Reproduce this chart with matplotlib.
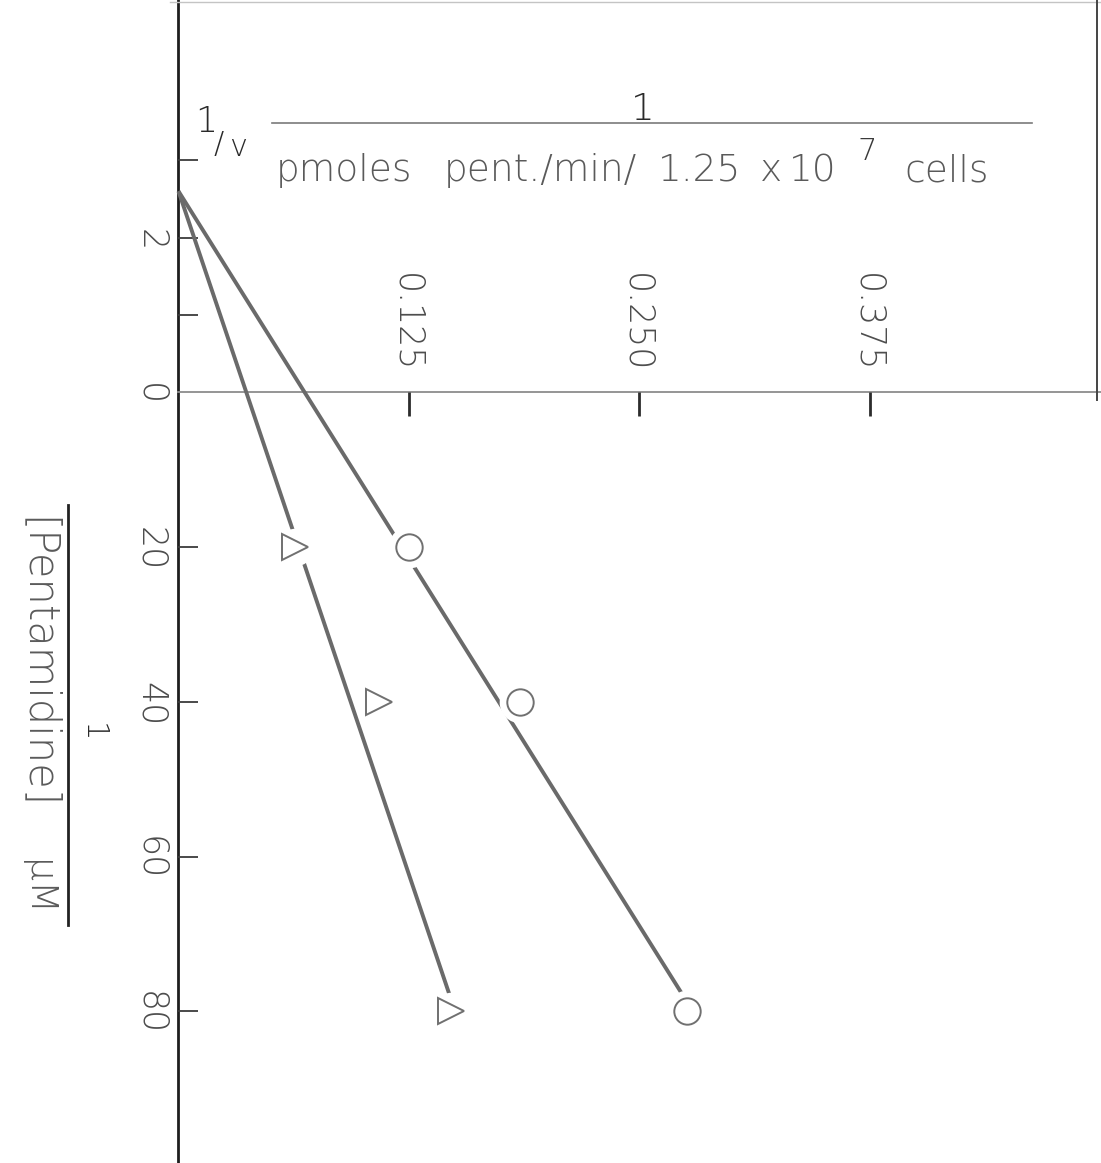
import matplotlib
matplotlib.use("Agg")
import matplotlib.pyplot as plt
from matplotlib.lines import Line2D

# Reciprocal pentamidine concentration, 1/[Pentamidine] (1/uM)
inv_pentamidine = [20, 40, 80]
# Reciprocal uptake rate 1/v for the two series
inv_v_circles = [0.125, 0.185, 0.276]
inv_v_triangles = [0.063, 0.109, 0.148]

# Fitted lines: common point on the 1/v = 0 axis and value at 1/[S] = 80
fit_inv_pent = [-26.0, 80.0]
fit_circles = [0.0, 0.279]
fit_triangles = [0.0, 0.150]

# Axis ticks and labels
x_ticks = [0.125, 0.250, 0.375]
x_tick_labels = ["0.125", "0.250", "0.375"]
y_ticks = [-30, -20, -10, 20, 40, 60, 80]
y_label_pos = [-20, 0, 20, 40, 60, 80]
y_tick_labels = ["2", "0", "20", "40", "60", "80"]

W, H = 1101, 1163
FONT = ["DejaVu Sans"]
TXT = "#4d4d4d"
LINE = "#6a6a6a"

fig = plt.figure(figsize=(W / 100, H / 100), dpi=100)
fig.patch.set_facecolor("white")
ax = fig.add_axes([0, 0, 1, 1])
ax.set_axis_off()
ax.set_xlim(-0.0968, 0.5003)
ax.set_ylim(99.61, -50.72)


def fp(x, y):
    """Figure fraction from pixel position (origin top-left)."""
    return x / W, 1 - y / H


# axes drawn through the origin
ax.axvline(0, color="#1e1e1e", lw=2.0, zorder=2)
ax.plot([0, 0.5003], [0, 0], color="#8c8c8c", lw=1.3, zorder=2)

for t in x_ticks:
    ax.plot([t, t], [0, 3.1], color="#2c2c2c", lw=2.0, solid_capstyle="butt")
for v in y_ticks:
    ax.plot([0, 0.0108], [v, v], color="#3c3c3c", lw=1.3, solid_capstyle="butt")

for t, lab in zip(x_ticks, x_tick_labels):
    ax.annotate(lab, (t, 0), xytext=(-3, 70), textcoords="offset pixels",
                rotation=-90, ha="center", va="center", fontsize=25,
                color=TXT, family=FONT, fontweight="light")
for v, lab in zip(y_label_pos, y_tick_labels):
    ax.annotate(lab, (0, v), xytext=(-28, -2), textcoords="offset pixels",
                rotation=-90, ha="center", va="center", fontsize=25,
                color=TXT, family=FONT, fontweight="light")

# fitted lines
ax.plot(fit_circles, fit_inv_pent, color=LINE, lw=2.8, solid_capstyle="butt", zorder=3)
ax.plot(fit_triangles, fit_inv_pent, color=LINE, lw=2.8, solid_capstyle="butt", zorder=3)

# data points with a white gap around each symbol
ax.plot(inv_v_circles, inv_pentamidine, "o", ms=30, mfc="white", mec="none", zorder=4)
ax.plot(inv_v_circles, inv_pentamidine, "o", ms=19, mfc="white", mec="#707070",
        mew=1.4, zorder=5)
ax.plot(inv_v_triangles, inv_pentamidine, "o", ms=27, mfc="white", mec="none", zorder=4)
ax.plot(inv_v_triangles, inv_pentamidine, ">", ms=19, mfc="white", mec="#707070",
        mew=1.4, zorder=5)

# 1/v label
fig.text(*fp(206, 122), "1", ha="center", va="center", fontsize=25, color="#2a2a2a",
         family=FONT, fontweight="light")
fig.text(*fp(219, 144), "/", ha="center", va="center", fontsize=22, color="#2a2a2a",
         family=FONT, fontweight="light")
fig.text(*fp(238, 147), "v", ha="center", va="center", fontsize=22, color="#2a2a2a",
         family=FONT, fontweight="light")

# horizontal axis unit as a fraction
fig.text(*fp(643, 110), "1", ha="center", va="center", fontsize=27, color="#2a2a2a",
         family=FONT, fontweight="light")
fig.add_artist(Line2D([272 / W, 1032 / W], [1 - 123 / H, 1 - 123 / H],
                      color="#7a7a7a", lw=1.2))
for word, x in [("pmoles", 276), ("pent./min/", 444), ("1.25", 658), ("x", 760),
                ("10", 789), ("cells", 904)]:
    fig.text(*fp(x, 181), word, ha="left", va="baseline", fontsize=27, color="#5a5a5a",
             family=FONT, fontweight="light")
fig.text(*fp(858, 160), "7", ha="left", va="baseline", fontsize=22, color="#3a3a3a",
         family=FONT, fontweight="light")

# vertical axis unit as a fraction
fig.text(*fp(37, 663), "[Pentamidine]", rotation=-90, ha="center", va="center",
         fontsize=30, color="#5a5a5a", family=FONT, fontweight="light")
fig.text(*fp(37, 888), "\u03bcM", rotation=-90, ha="center", va="center",
         fontsize=27, color="#5a5a5a", family=FONT, fontweight="light")
fig.add_artist(Line2D([68 / W, 68 / W], [1 - 505 / H, 1 - 925 / H],
                      color="#222222", lw=2.0))
fig.text(*fp(92, 733), "1", rotation=-90, ha="center", va="center", fontsize=22,
         color="#2a2a2a", family=FONT, fontweight="light")

# page edges
fig.add_artist(Line2D([170 / W, 1.0], [1 - 2 / H, 1 - 2 / H], color="#c4c4c4", lw=1.0))
fig.add_artist(Line2D([1097 / W, 1097 / W], [1.0, 1 - 400 / H], color="#444444", lw=1.4))

fig.savefig("out.png", dpi=100, facecolor="white")
